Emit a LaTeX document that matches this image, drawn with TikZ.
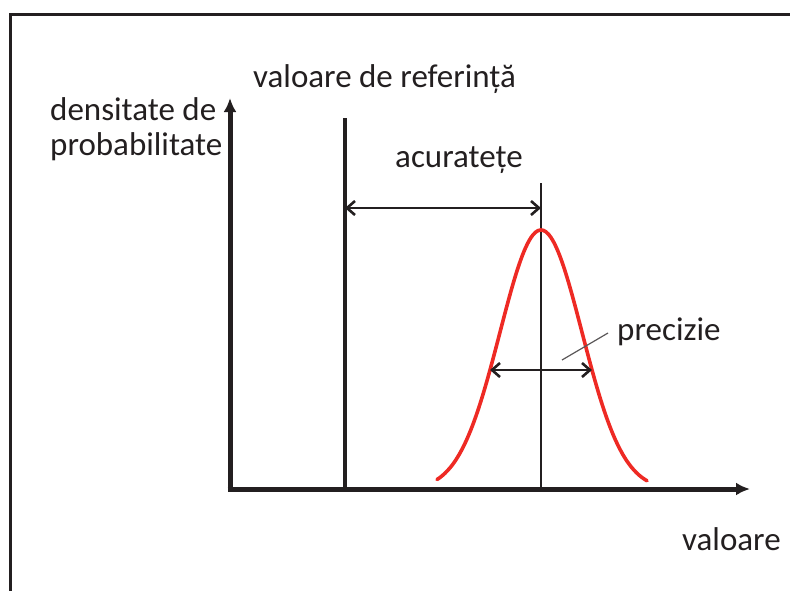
\documentclass[tikz,border=0pt]{standalone}
\usepackage{fontspec}
\setmainfont{Carlito}
\usetikzlibrary{positioning, arrows.meta, calc}
\definecolor{inkgray}{HTML}{231F20}
\definecolor{curvered}{HTML}{EE2A24}

\begin{document}
\begin{tikzpicture}[
      x=1pt, y=-1pt,
      every node/.style={font=\fontsize{33}{35}\selectfont, text=inkgray, inner sep=0pt},
      axis/.style={line width=5pt, draw=inkgray, -{Latex[length=14pt, width=13pt]}},
      dimline/.style={line width=2.6pt, draw=inkgray, {Straight Barb[length=8pt, width=14pt]}-{Straight Barb[length=8pt, width=14pt]}},
      bell/.style={line width=3.6pt, draw=curvered, line cap=round},
    ]
    \useasboundingbox (0,0) rectangle (790,590);
    % frame, cut by the page edge
    \draw[line width=3pt, inkgray] (10,606) -- (10,14) -- (806,14);

    % axes
    \coordinate (orig) at (230,489);
    \coordinate (ytop) at (230,98);
    \coordinate (xend) at (750,489);
    \draw[axis] ($(orig)+(0,2.5)$) -- (ytop);
    \draw[axis] ($(orig)+(-2.5,0)$) -- (xend);
    \node[anchor=base west, align=left] (ylab) at (50,155)
      {densitate de\\probabilitate};
    \node[anchor=base west] (xlab) at (682,550) {valoare};

    % reference value and mean
    \coordinate (refbot) at (345,489);
    \coordinate (reftop) at (345,118);
    \coordinate (meanbot) at (541,489);
    \coordinate (meantop) at (541,183);
    \draw[line width=4pt, inkgray] (refbot) -- (reftop);
    \draw[line width=2.6pt, inkgray] (meanbot) -- (meantop);
    \node[anchor=base west] (reflab) at (253,87) {valoare de referință};

    % gaussian
    \draw[bell] plot[domain=-104:106, samples=80, smooth]
      ({541+\x}, {490-260*exp(-(\x*\x)/3364)});

    % accuracy
    \coordinate (acl) at (345,208);
    \coordinate (acr) at (541,208);
    \draw[dimline] (acl) -- (acr);
    \node[anchor=base west] (aclab) at (395,167) {acuratețe};

    % precision
    \coordinate (prl) at (490,370);
    \coordinate (prr) at (592,370);
    \draw[dimline] (prl) -- (prr);
    \node[anchor=base west] (prlab) at (617,340) {precizie};
    \coordinate (lead) at (562,360);
    \draw[line width=1.2pt, inkgray!75] (lead) -- (608,333);
  \end{tikzpicture}
\end{document}
